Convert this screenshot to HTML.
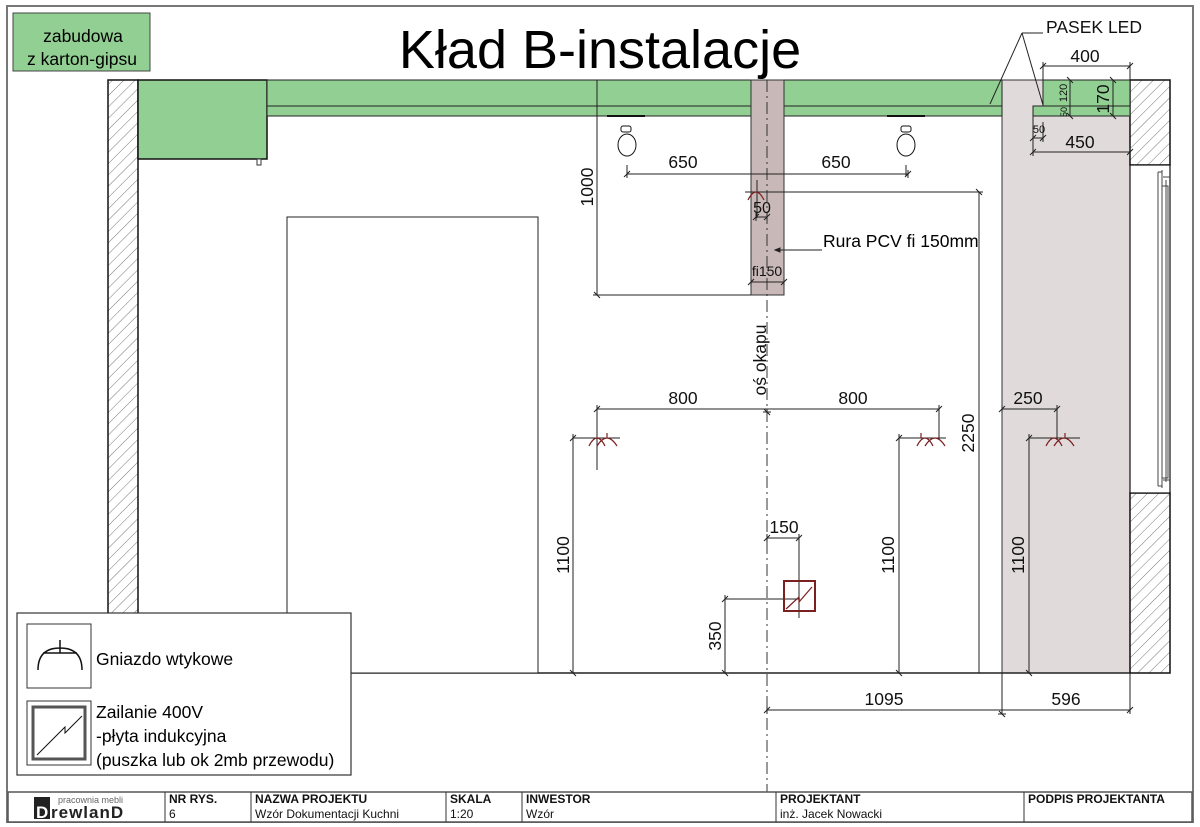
<!DOCTYPE html>
<html><head><meta charset="utf-8"><style>
html,body{margin:0;padding:0;background:#fff;}
svg{display:block;font-family:"Liberation Sans",Arial,sans-serif;}
</style></head><body>
<svg width="1200" height="827" viewBox="0 0 1200 827" xmlns="http://www.w3.org/2000/svg">
<defs>
<pattern id="h" width="8" height="8" patternUnits="userSpaceOnUse" patternTransform="rotate(45)">
<rect width="8" height="8" fill="#fff"/><line x1="0" y1="0" x2="0" y2="8" stroke="#777" stroke-width="1"/>
</pattern>
<marker id="t" viewBox="-4 -4 8 8" markerWidth="8" markerHeight="8" markerUnits="userSpaceOnUse" orient="auto">
<path d="M-3 3L3 -3M0 -4V4" stroke="#222" stroke-width="1" fill="none"/></marker>
</defs>
<rect x="7" y="6" width="1186" height="816" fill="#fff" stroke="#777" stroke-width="2"/>

<rect x="13" y="13" width="137" height="58" fill="#92cf92" stroke="#444"/>
<text x="83" y="42" font-size="17.5" text-anchor="middle">zabudowa</text>
<text x="82" y="65" font-size="17.5" text-anchor="middle">z karton-gipsu</text>

<text x="600" y="68" font-size="54" text-anchor="middle">Kład B-instalacje</text>

<rect x="1002" y="80" width="128" height="593" fill="#e0dadb" stroke="#333"/>
<rect x="108" y="80" width="30" height="593" fill="url(#h)" stroke="#111" stroke-width="1.5"/>
<rect x="1130" y="80" width="40" height="85" fill="url(#h)" stroke="#111" stroke-width="1.5"/>
<rect x="1130" y="493" width="40" height="180" fill="url(#h)" stroke="#111" stroke-width="1.5"/>
<rect x="1130" y="165" width="40" height="328" fill="#fff" stroke="#111" stroke-width="1.2"/>
<path d="M1158 172V486M1162 170V488M1166 180V482M1158 172h4M1158 486h4M1163 177h7M1163 480h7M1162 186h6V478h-6" stroke="#444" fill="none" stroke-width="1"/>
<line x1="138" y1="673" x2="1130" y2="673" stroke="#222" stroke-width="1.5"/>
<rect x="138" y="80" width="129" height="79" fill="#92cf92" stroke="#111" stroke-width="1.5"/>
<rect x="257" y="159" width="4" height="6" fill="#fff" stroke="#333"/>
<rect x="267" y="80" width="735" height="36" fill="#92cf92" stroke="#222"/>
<line x1="267" y1="106" x2="1002" y2="106" stroke="#222"/>
<rect x="1043" y="80" width="87" height="26" fill="#92cf92" stroke="#222"/>
<rect x="1033" y="106" width="97" height="10" fill="#92cf92" stroke="#222"/>
<rect x="287" y="217" width="251" height="456" fill="#fff" stroke="#222"/>
<rect x="751" y="80" width="33" height="215" fill="#c9b8b8" stroke="#333"/>
<line x1="767" y1="80" x2="767" y2="805" stroke="#333" stroke-dasharray="12,4,2,4"/>

<g stroke="#111" fill="none">
<line x1="607" y1="116" x2="645" y2="116" stroke-width="2"/>
<line x1="887" y1="116" x2="925" y2="116" stroke-width="2"/>
<rect x="621" y="126" width="10" height="6" rx="2"/><ellipse cx="627" cy="145" rx="9" ry="11"/>
<rect x="901" y="126" width="10" height="6" rx="2"/><ellipse cx="906" cy="145" rx="9" ry="11"/>
</g>

<g stroke="#222" stroke-width="1" fill="none">
<line x1="597" y1="80" x2="597" y2="295" marker-end="url(#t)"/>
<line x1="597" y1="295" x2="751" y2="295"/>
<line x1="627" y1="174" x2="908" y2="174" marker-start="url(#t)" marker-end="url(#t)"/>
<line x1="627" y1="165" x2="627" y2="176"/><line x1="906" y1="165" x2="906" y2="176"/>
<line x1="745" y1="192" x2="979" y2="192"/>
<line x1="979" y1="192" x2="979" y2="673" marker-start="url(#t)"/>
<line x1="756" y1="217" x2="767" y2="217" marker-start="url(#t)" marker-end="url(#t)"/>
<line x1="757" y1="180" x2="757" y2="218"/>
<line x1="751" y1="282" x2="784" y2="282" marker-start="url(#t)" marker-end="url(#t)"/>
<line x1="775" y1="250" x2="822" y2="250"/><path d="M775 250l5-2v4z" fill="#222"/>
<line x1="597" y1="409" x2="939" y2="409" marker-start="url(#t)" marker-end="url(#t)"/>
<line x1="597" y1="405" x2="597" y2="470"/>
<line x1="767" y1="409" x2="767" y2="412" marker-end="url(#t)"/>
<line x1="939" y1="405" x2="939" y2="440"/>
<line x1="1002" y1="409" x2="1057" y2="409" marker-start="url(#t)" marker-end="url(#t)"/>
<line x1="1057" y1="405" x2="1057" y2="440"/>
<line x1="573" y1="438" x2="620" y2="438" marker-start="url(#t)"/>
<line x1="899" y1="438" x2="946" y2="438" marker-start="url(#t)"/>
<line x1="1029" y1="438" x2="1080" y2="438" marker-start="url(#t)"/>
<line x1="573" y1="438" x2="573" y2="673" marker-end="url(#t)"/>
<line x1="899" y1="438" x2="899" y2="673" marker-end="url(#t)"/>
<line x1="1029" y1="438" x2="1029" y2="673" marker-end="url(#t)"/>
<line x1="767" y1="538" x2="799" y2="538" marker-start="url(#t)" marker-end="url(#t)"/>
<line x1="799" y1="534" x2="799" y2="618"/>
<line x1="725" y1="599" x2="800" y2="599" marker-start="url(#t)"/>
<line x1="725" y1="599" x2="725" y2="673" marker-end="url(#t)"/>
<line x1="767" y1="710" x2="1130" y2="710" marker-start="url(#t)" marker-end="url(#t)"/>
<line x1="1002" y1="673" x2="1002" y2="714" marker-end="url(#t)"/>
<line x1="1130" y1="673" x2="1130" y2="714"/>
<line x1="1043" y1="33" x2="1022" y2="33"/>
<line x1="1022" y1="33" x2="990" y2="104"/><line x1="1022" y1="33" x2="1043" y2="105"/>
<line x1="1043" y1="66" x2="1130" y2="66" marker-start="url(#t)" marker-end="url(#t)"/>
<line x1="1043" y1="62" x2="1043" y2="106"/><line x1="1130" y1="62" x2="1130" y2="80"/>
<line x1="1070" y1="80" x2="1070" y2="116" marker-start="url(#t)" marker-end="url(#t)"/>
<line x1="1113" y1="80" x2="1113" y2="116" marker-start="url(#t)" marker-end="url(#t)"/>
<line x1="1033" y1="138" x2="1043" y2="138" marker-start="url(#t)" marker-end="url(#t)"/>
<line x1="1043" y1="122" x2="1043" y2="140"/>
<line x1="1033" y1="116" x2="1033" y2="155"/>
<line x1="1033" y1="152" x2="1130" y2="152" marker-start="url(#t)" marker-end="url(#t)"/>
</g>
<g stroke="#7a2020" fill="none" stroke-width="1.2">
<path d="M589 446q4-8 8-8q4 0 8 8M597 446q5-8 10-8q5 0 10 8M607 438v-5"/>
<path d="M917 446q4-8 8-8q4 0 8 8M925 446q5-8 10-8q5 0 10 8M921 438v-5"/>
<path d="M1046 446q4-8 8-8q4 0 8 8M1054 446q5-8 10-8q5 0 10 8M1065 438v-5"/>
<path d="M748 200q4-8 8-8q4 0 8 8"/>
<rect x="784" y="581" width="31" height="30" stroke-width="2"/>
<path d="M786 609l13-12v5l13-15"/>
</g>

<g font-size="17.5" fill="#111" text-anchor="middle">
<text x="683" y="168">650</text><text x="836" y="168">650</text>
<text x="762" y="213" font-size="16">50</text>
<text x="767" y="276" font-size="14">fi150</text>
<text x="683" y="404">800</text><text x="853" y="404">800</text>
<text x="1028" y="404">250</text>
<text x="784" y="533">150</text>
<text x="884" y="705">1095</text><text x="1066" y="705">596</text>
<text x="1085" y="62">400</text>
<text x="1080" y="148">450</text>
<text x="1039" y="133" font-size="11">50</text>
<text x="1094" y="33">PASEK LED</text>
<text transform="translate(593,187) rotate(-90)">1000</text>
<text transform="translate(974,433) rotate(-90)">2250</text>
<text transform="translate(569,555) rotate(-90)">1100</text>
<text transform="translate(894,555) rotate(-90)">1100</text>
<text transform="translate(1024,555) rotate(-90)">1100</text>
<text transform="translate(721,636) rotate(-90)">350</text>
<text transform="translate(766,360) rotate(-90)">oś okapu</text>
<text transform="translate(1067,93) rotate(-90)" font-size="11">120</text>
<text transform="translate(1067,112) rotate(-90)" font-size="9">50</text>
<text transform="translate(1109,99) rotate(-90)">170</text>
</g>
<text x="823" y="247" font-size="17.5">Rura PCV fi  150mm</text>

<rect x="17" y="613" width="334" height="162" fill="#fff" stroke="#333" stroke-width="1.2"/>
<rect x="27" y="624" width="64" height="64" fill="#fff" stroke="#333"/>
<path d="M38 670q0-22 22-22q22 0 22 22M43 653h34M60 653v-13" stroke="#111" fill="none" stroke-width="1.5"/>
<text x="96" y="665" font-size="17.5">Gniazdo wtykowe</text>
<rect x="27" y="701" width="64" height="64" fill="#fff" stroke="#333"/>
<rect x="33" y="707" width="52" height="52" fill="none" stroke="#555" stroke-width="3"/>
<path d="M37 755l28-28v6l17-17" stroke="#111" fill="none"/>
<text x="96" y="718" font-size="17.5">Zailanie 400V</text>
<text x="96" y="742" font-size="17.5">-płyta indukcyjna</text>
<text x="96" y="766" font-size="17.5">(puszka lub ok 2mb przewodu)</text>

<rect x="8" y="792" width="1184" height="30" fill="#fff" stroke="#555" stroke-width="1.5"/>
<g stroke="#333"><line x1="165" y1="792" x2="165" y2="822"/><line x1="251" y1="792" x2="251" y2="822"/><line x1="446" y1="792" x2="446" y2="822"/><line x1="522" y1="792" x2="522" y2="822"/><line x1="776" y1="792" x2="776" y2="822"/><line x1="1024" y1="792" x2="1024" y2="822"/></g>
<rect x="34" y="797" width="16" height="22" fill="#222"/>
<text x="58" y="803" font-size="9" fill="#666">pracownia mebli</text>
<text x="36" y="818" font-size="17" font-weight="bold" fill="#fff" letter-spacing="1">D</text>
<text x="51" y="818" font-size="17" font-weight="bold" fill="#222" letter-spacing="1">rewlanD</text>
<g font-size="12" fill="#111">
<text x="169" y="803" font-weight="bold">NR RYS.</text><text x="169" y="818">6</text>
<text x="255" y="803" font-weight="bold">NAZWA PROJEKTU</text><text x="255" y="818">Wzór Dokumentacji Kuchni</text>
<text x="450" y="803" font-weight="bold">SKALA</text><text x="450" y="818">1:20</text>
<text x="526" y="803" font-weight="bold">INWESTOR</text><text x="526" y="818">Wzór</text>
<text x="780" y="803" font-weight="bold">PROJEKTANT</text><text x="780" y="818">inż. Jacek Nowacki</text>
<text x="1028" y="803" font-weight="bold">PODPIS PROJEKTANTA</text>
</g>
</svg>
</body></html>
